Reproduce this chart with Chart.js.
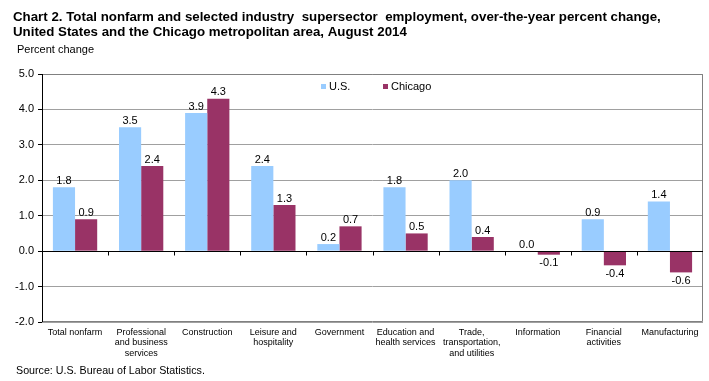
<!DOCTYPE html>
<html><head><meta charset="utf-8">
<script src="https://cdn.jsdelivr.net/npm/chart.js@4/dist/chart.umd.min.js"></script>
<style>html,body{margin:0;padding:0;background:#fff}#wrap{width:709px;height:381px;position:relative}</style>
</head><body><div id="wrap"><canvas id="c" width="709" height="381"></canvas></div>
<script>
const categories = [
  ["Total nonfarm"],
  ["Professional","and business","services"],
  ["Construction"],
  ["Leisure and","hospitality"],
  ["Government"],
  ["Education and","health services"],
  ["Trade,","transportation,","and utilities"],
  ["Information"],
  ["Financial","activities"],
  ["Manufacturing"]
];
const usValues = [1.8, 3.5, 3.9, 2.4, 0.2, 1.8, 2.0, 0.0, 0.9, 1.4];
const chicagoValues = [0.9, 2.4, 4.3, 1.3, 0.7, 0.5, 0.4, -0.1, -0.4, -0.6];
const yTicks = [-2, -1, 0, 1, 2, 3, 4, 5];
const titleLines = [
  "Chart 2. Total nonfarm and selected industry  supersector  employment, over-the-year percent change,",
  "United States and the Chicago metropolitan area, August 2014"
];
const seriesNames = ["U.S.", "Chicago"];
const colors = ["#99CCFF", "#993366"];

const FONT = "Arial, 'Liberation Sans', sans-serif";

const decor = {
  id: 'decor',
  beforeDatasetsDraw(chart) {
    const {ctx, chartArea: a} = chart;
    ctx.save();
    ctx.strokeStyle = '#808080';
    ctx.lineWidth = 1;
    ctx.beginPath();
    ctx.moveTo(a.left, a.top + 0.5); ctx.lineTo(a.right - 0.5, a.top + 0.5);
    ctx.lineTo(a.right - 0.5, a.bottom - 0.5); ctx.lineTo(a.left, a.bottom - 0.5);
    ctx.stroke();
    ctx.restore();
  },
  afterDatasetsDraw(chart) {
    const {ctx, chartArea: a, scales} = chart;
    const y0 = Math.round(scales.y.getPixelForValue(0)) + 0.5;
    ctx.save();
    ctx.strokeStyle = '#000';
    ctx.lineWidth = 1;
    ctx.beginPath();
    ctx.moveTo(a.left, y0); ctx.lineTo(a.right, y0);
    const n = categories.length;
    const w = (a.right - a.left) / n;
    for (let i = 1; i < n; i++) {
      const x = Math.round(a.left + w * i) + 0.5;
      ctx.moveTo(x, y0); ctx.lineTo(x, y0 + 4);
    }
    ctx.stroke();
    ctx.beginPath();
    ctx.moveTo(a.left + 0.5, a.top); ctx.lineTo(a.left + 0.5, a.bottom);
    ctx.stroke();
    ctx.font = '11px ' + FONT;
    ctx.fillStyle = '#000';
    ctx.textAlign = 'center';
    chart.data.datasets.forEach((ds, di) => {
      const meta = chart.getDatasetMeta(di);
      meta.data.forEach((bar, i) => {
        const v = ds.data[i];
        const txt = v.toFixed(1);
        if (v >= 0) {
          ctx.textBaseline = 'bottom';
          ctx.fillText(txt, bar.x, bar.y - 1);
        } else {
          ctx.textBaseline = 'top';
          ctx.fillText(txt, bar.x, bar.y + 3);
        }
      });
    });
    ctx.textBaseline = 'middle';
    ctx.textAlign = 'left';
    ctx.font = '11px ' + FONT;
    const lx = [321, 383];
    seriesNames.forEach((s, i) => {
      ctx.fillStyle = colors[i];
      ctx.fillRect(lx[i], 84, 5, 5);
      ctx.fillStyle = '#000';
      ctx.fillText(s, lx[i] + 8, 87);
    });
    ctx.font = 'bold 13.3px ' + FONT;
    ctx.textBaseline = 'alphabetic';
    ctx.fillText(titleLines[0], 13, 21);
    ctx.fillText(titleLines[1], 13, 36);
    ctx.font = '11px ' + FONT;
    ctx.fillText('Percent change', 17, 53);
    ctx.font = '10.7px ' + FONT;
    ctx.fillText('Source: U.S. Bureau of Labor Statistics.', 16, 374);
    ctx.restore();
  }
};

new Chart(document.getElementById('c'), {
  type: 'bar',
  data: {
    labels: categories,
    datasets: [
      {label: seriesNames[0], data: usValues, backgroundColor: colors[0], borderWidth: 0},
      {label: seriesNames[1], data: chicagoValues, backgroundColor: colors[1], borderWidth: 0}
    ]
  },
  options: {
    responsive: false,
    animation: false,
    devicePixelRatio: 1,
    layout: {padding: {top: 74, right: 6, bottom: 0, left: 0}},
    plugins: {legend: {display: false}, title: {display: false}, tooltip: {enabled: false}},
    datasets: {bar: {categoryPercentage: 0.67, barPercentage: 1.0}},
    scales: {
      x: {
        grid: {display: false, drawTicks: false},
        border: {display: false},
        ticks: {font: {size: 9, family: FONT, lineHeight: 1.17}, color: '#000', maxRotation: 0, autoSkip: false, padding: 5},
        afterFit(s) { s.height = 59; }
      },
      y: {
        min: -2, max: 5,
        afterBuildTicks(s) { s.ticks = yTicks.map(v => ({value: v})); },
        grid: {color: '#a0a0a0', tickColor: '#000', tickLength: 4, drawTicks: true},
        border: {display: false},
        ticks: {font: {size: 11, family: FONT}, color: '#000', padding: 4, callback: v => v.toFixed(1)},
        afterFit(s) { s.width = 42; }
      }
    }
  },
  plugins: [decor]
});
</script></body></html>
